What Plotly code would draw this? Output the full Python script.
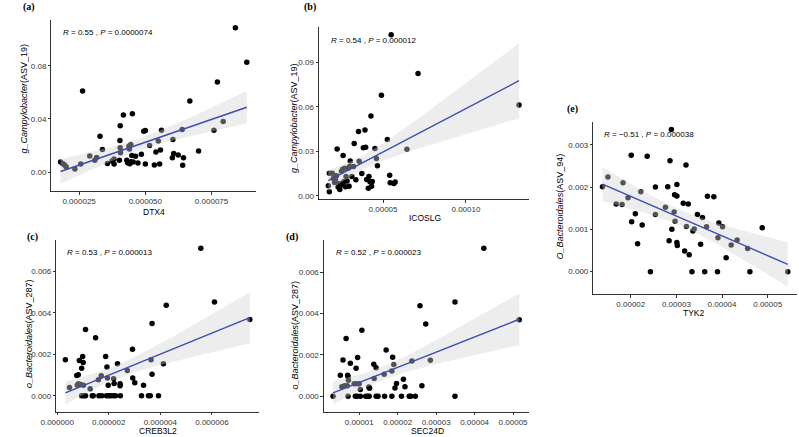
import numpy as np
import plotly.graph_objects as go

W, H = 799, 437

# ---------------- data ----------------
a_x = [0.0000180, 0.0000189, 0.0000195, 0.0000201, 0.0000234, 0.0000256, 0.0000263, 0.0000290, 0.0000309, 0.0000316,
       0.0000329, 0.0000338, 0.0000357, 0.0000374, 0.0000382, 0.0000382, 0.0000402, 0.0000404, 0.0000405, 0.0000405,
       0.0000406, 0.0000417, 0.0000430, 0.0000433, 0.0000438, 0.0000440, 0.0000445, 0.0000441, 0.0000446, 0.0000449,
       0.0000451, 0.0000454, 0.0000463, 0.0000472, 0.0000485, 0.0000494, 0.0000500, 0.0000500, 0.0000516, 0.0000534,
       0.0000540, 0.0000549, 0.0000554, 0.0000557, 0.0000561, 0.0000602, 0.0000604, 0.0000607, 0.0000624, 0.0000639,
       0.0000641, 0.0000644, 0.0000668, 0.0000701, 0.0000759, 0.0000772, 0.0000794, 0.0000840, 0.0000883]
a_y = [0.0075, 0.0063, 0.0053, 0.0040, 0.0023, 0.0060, 0.0610, 0.0120, 0.0088, 0.0110,
       0.0270, 0.0170, 0.0065, 0.0083, 0.0098, 0.0060, 0.0088, 0.0238, 0.0348, 0.0183,
       0.0145, 0.0430, 0.0088, 0.0070, 0.0195, 0.0173, 0.0208, 0.0063, 0.0078, 0.0125,
       0.0440, 0.0075, 0.0118, 0.0068, 0.0133, 0.0308, 0.0313, 0.0060, 0.0200, 0.0053,
       0.0150, 0.0233, 0.0060, 0.0165, 0.0315, 0.0108, 0.0245, 0.0140, 0.0128, 0.0320,
       0.0050, 0.0108, 0.0535, 0.0158, 0.0315, 0.0678, 0.0380, 0.1088, 0.0828]

b_x = [0.0000170, 0.0000176, 0.0000176, 0.0000194, 0.0000200, 0.0000208, 0.0000213, 0.0000219, 0.0000223, 0.0000229,
       0.0000235, 0.0000239, 0.0000245, 0.0000249, 0.0000255, 0.0000257, 0.0000259, 0.0000265, 0.0000269, 0.0000273,
       0.0000277, 0.0000283, 0.0000289, 0.0000295, 0.0000298, 0.0000302, 0.0000312, 0.0000322, 0.0000326, 0.0000336,
       0.0000352, 0.0000356, 0.0000372, 0.0000381, 0.0000391, 0.0000395, 0.0000401, 0.0000411, 0.0000415, 0.0000421,
       0.0000427, 0.0000431, 0.0000435, 0.0000451, 0.0000460, 0.0000466, 0.0000490, 0.0000526, 0.0000540, 0.0000543,
       0.0000549, 0.0000565, 0.0000573, 0.0000644, 0.0000711, 0.0001320]
b_y = [0.0067, 0.0027, 0.0152, 0.0152, 0.0116, 0.0089, 0.0107, 0.0134, 0.0315, 0.0058,
       0.0080, 0.0042, 0.0071, 0.0165, 0.0085, 0.0179, 0.0272, 0.0096, 0.0185, 0.0060,
       0.0130, 0.0100, 0.0185, 0.0063, 0.0197, 0.0234, 0.0130, 0.0197, 0.0353, 0.0107,
       0.0433, 0.0232, 0.0150, 0.0324, 0.0444, 0.0328, 0.0109, 0.0051, 0.0130, 0.0094,
       0.0538, 0.0063, 0.0096, 0.0319, 0.0252, 0.0203, 0.0679, 0.0380, 0.0138, 0.0087,
       0.1087, 0.0083, 0.0092, 0.0313, 0.0826, 0.0612]

c_x = [3.2e-7, 4.8e-7, 7.6e-7, 8.2e-7, 7.8e-7, 8.2e-7, 8.6e-7, 9.1e-7, 9.5e-7, 9.9e-7,
       1.01e-6, 9.5e-7, 1.04e-6, 1.10e-6, 1.02e-6, 1.10e-6, 1.28e-6, 1.36e-6, 1.40e-6, 1.49e-6,
       1.60e-6, 1.71e-6, 1.62e-6, 1.73e-6, 1.88e-6, 1.93e-6, 1.95e-6, 1.98e-6, 1.91e-6, 2.00e-6,
       2.08e-6, 2.17e-6, 2.26e-6, 2.45e-6, 2.19e-6, 2.21e-6, 2.34e-6, 2.44e-6, 2.44e-6, 2.72e-6,
       2.92e-6, 2.93e-6, 3.01e-6, 3.27e-6, 3.35e-6, 3.54e-6, 3.61e-6, 3.64e-6, 3.68e-6, 3.68e-6,
       3.93e-6, 4.12e-6, 4.23e-6, 5.57e-6, 6.10e-6, 7.47e-6]
c_y = [0.00174, 0.00040, 0.00098, 0.00101, 0.00050, 0.00058, 0.00170, 0.00054, 0.00133, 0.00189,
       0.00160, 0.0, 0.0, 0.0, 0.00050, 0.00320, 0.00034, 0.0, 0.0, 0.00280,
       0.00077, 0.00096, 0.0, 0.0, 0.00189, 0.00138, 0.00086, 0.00050, 0.0, 0.0,
       0.0, 0.0, 0.0, 0.0, 0.00082, 0.00059, 0.00154, 0.00058, 0.00048, 0.00122,
       0.00224, 0.00085, 0.00062, 0.0, 0.00050, 0.0, 0.0, 0.00174, 0.00349, 0.00104,
       0.0, 0.00154, 0.00437, 0.00712, 0.00453, 0.00368]

d_x = [0.0000032, 0.0000051, 0.0000055, 0.0000058, 0.0000062, 0.0000066, 0.0000070, 0.0000071, 0.0000072, 0.0000071,
       0.0000069, 0.0000077, 0.0000087, 0.0000090, 0.0000092, 0.0000094, 0.0000096, 0.0000095, 0.0000100, 0.0000103,
       0.0000103, 0.0000107, 0.0000117, 0.0000122, 0.0000126, 0.0000125, 0.0000127, 0.0000138, 0.0000139, 0.0000144,
       0.0000144, 0.0000149, 0.0000165, 0.0000166, 0.0000170, 0.0000185, 0.0000185, 0.0000187, 0.0000190, 0.0000193,
       0.0000197, 0.0000210, 0.0000215, 0.0000219, 0.0000230, 0.0000234, 0.0000237, 0.0000246, 0.0000258, 0.0000263,
       0.0000273, 0.0000285, 0.0000349, 0.0000349, 0.0000424, 0.0000516]
d_y = [0.0, 0.00101, 0.00046, 0.00176, 0.00050, 0.00280, 0.00101, 0.00096, 0.00077, 0.0,
       0.00050, 0.00160, 0.00060, 0.0, 0.00136, 0.00060, 0.00187, 0.0, 0.00060, 0.00032,
       0.0, 0.00320, 0.0, 0.0, 0.0, 0.00045, 0.00038, 0.00155, 0.00086, 0.00138,
       0.0, 0.0, 0.00106, 0.0, 0.00224, 0.0, 0.00122, 0.00189, 0.00154, 0.00040,
       0.00062, 0.0, 0.00082, 0.00046, 0.0, 0.0, 0.00170, 0.0, 0.00438, 0.00050,
       0.00350, 0.00174, 0.0, 0.00456, 0.00717, 0.00370]

e_x = [0.0000138, 0.0000150, 0.0000168, 0.0000181, 0.0000183, 0.0000194, 0.0000201, 0.0000202, 0.0000210, 0.0000215,
       0.0000222, 0.0000225, 0.0000236, 0.0000243, 0.0000254, 0.0000254, 0.0000276, 0.0000281, 0.0000284, 0.0000286,
       0.0000289, 0.0000290, 0.0000295, 0.0000296, 0.0000297, 0.0000301, 0.0000301, 0.0000301, 0.0000302, 0.0000315,
       0.0000318, 0.0000321, 0.0000322, 0.0000326, 0.0000328, 0.0000334, 0.0000336, 0.0000339, 0.0000346, 0.0000353,
       0.0000357, 0.0000362, 0.0000366, 0.0000368, 0.0000382, 0.0000390, 0.0000391, 0.0000393, 0.0000401, 0.0000409,
       0.0000420, 0.0000433, 0.0000456, 0.0000461, 0.0000488, 0.0000544]
e_y = [0.00201, 0.00224, 0.00160, 0.00159, 0.00210, 0.00175, 0.00275, 0.00118, 0.00137, 0.00066,
       0.00189, 0.00110, 0.00273, 0.0, 0.00200, 0.00135, 0.00152, 0.00201, 0.00073, 0.00262,
       0.00336, 0.00100, 0.00141, 0.00182, 0.00119, 0.00179, 0.00206, 0.00069, 0.00062, 0.00162,
       0.00049, 0.00252, 0.00107, 0.00160, 0.00040, 0.0, 0.00096, 0.00101, 0.00135, 0.00065,
       0.00128, 0.0, 0.00106, 0.00178, 0.00177, 0.0, 0.00080, 0.00115, 0.00106, 0.00033,
       0.00063, 0.00075, 0.00055, 0.0, 0.00104, 0.0]

# tick labels
a_xticks = [0.000025, 0.000050, 0.000075]
a_xtext = ["0.000025", "0.000050", "0.000075"]
a_yticks = [0.00, 0.04, 0.08]
a_ytext = ["0.00", "0.04", "0.08"]
b_xticks = [0.00005, 0.00010]
b_xtext = ["0.00005", "0.00010"]
b_yticks = [0.00, 0.03, 0.06, 0.09]
b_ytext = ["0.00", "0.03", "0.06", "0.09"]
c_xticks = [0.0, 0.000002, 0.000004, 0.000006]
c_xtext = ["0.000000", "0.000002", "0.000004", "0.000006"]
c_yticks = [0.000, 0.002, 0.004, 0.006]
c_ytext = ["0.000", "0.002", "0.004", "0.006"]
d_xticks = [0.00001, 0.00002, 0.00003, 0.00004, 0.00005]
d_xtext = ["0.00001", "0.00002", "0.00003", "0.00004", "0.00005"]
d_yticks = [0.000, 0.002, 0.004, 0.006]
d_ytext = ["0.000", "0.002", "0.004", "0.006"]
e_xticks = [0.00002, 0.00003, 0.00004, 0.00005]
e_xtext = ["0.00002", "0.00003", "0.00004", "0.00005"]
e_yticks = [0.000, 0.001, 0.002, 0.003]
e_ytext = ["0.000", "0.001", "0.002", "0.003"]

panel_tags = ["(a)", "(b)", "(c)", "(d)", "(e)"]
x_titles = ["DTX4", "ICOSLG", "CREB3L2", "SEC24D", "TYK2"]
y_titles = ["<i>g_Campylobacter</i>(ASV_19)", "<i>g_Campylobacter</i>(ASV_19)",
            "<i>o_Bacteroidales</i>(ASV_287)", "<i>o_Bacteroidales</i>(ASV_287)",
            "<i>O_Bacteroidales</i>(ASV_94)"]
stats = ["<i>R</i> = 0.55 , <i>P</i> = 0.0000074",
         "<i>R</i> = 0.54 , <i>P</i> = 0.000012",
         "<i>R</i> = 0.53 , <i>P</i> = 0.000013",
         "<i>R</i> = 0.52 , <i>P</i> = 0.000023",
         "<i>R</i> = \u22120.51 , <i>P</i> = 0.000038"]

# ---------------- layout geometry (pixels) ----------------
# (left, right, top, bottom) of each panel
boxes = [(36, 245, 20, 192), (309, 523, 27, 200), (41, 248, 241, 413),
         (314, 523, 241, 413), (589, 797, 122, 295)]
tag_pos = [(13, 7), (300, 7), (17, 238), (282, 238), (568, 109)]
stat_pos = [(46, 33), (319, 41), (50, 253), (324, 253), (598, 135)]
xt_pos = [(141, 212), (417, 218.5), (145, 432), (420, 431.5), (692, 314)]
yt_pos = [(8, 99), (283, 118), (13, 334), (285, 336), (555, 207)]

panels = [(a_x, a_y, a_xticks, a_xtext, a_yticks, a_ytext),
          (b_x, b_y, b_xticks, b_xtext, b_yticks, b_ytext),
          (c_x, c_y, c_xticks, c_xtext, c_yticks, c_ytext),
          (d_x, d_y, d_xticks, d_xtext, d_yticks, d_ytext),
          (e_x, e_y, e_xticks, e_xtext, e_yticks, e_ytext)]


def t975(df):
    z = 1.959963984540054
    g1 = (z**3 + z) / 4
    g2 = (5 * z**5 + 16 * z**3 + 3 * z) / 96
    g3 = (3 * z**7 + 19 * z**5 + 17 * z**3 - 15 * z) / 384
    return z + g1 / df + g2 / df**2 + g3 / df**3


def fit(x, y):
    x = np.asarray(x, float)
    y = np.asarray(y, float)
    n = len(x)
    xm, ym = x.mean(), y.mean()
    sxx = ((x - xm) ** 2).sum()
    b = ((x - xm) * (y - ym)).sum() / sxx
    a = ym - b * xm
    resid = y - (a + b * x)
    s = np.sqrt((resid ** 2).sum() / (n - 2))
    xs = np.linspace(x.min(), x.max(), 80)
    yh = a + b * xs
    se = s * np.sqrt(1.0 / n + (xs - xm) ** 2 / sxx)
    t = t975(n - 2)
    return xs, yh, yh - t * se, yh + t * se


fig = go.Figure()
ann = []
FONT = "Liberation Sans, Arial, sans-serif"

for i, (px, py, xtv, xtt, ytv, ytt) in enumerate(panels):
    k = "" if i == 0 else str(i + 1)
    xa, ya = "x" + k, "y" + k
    xs, yh, lo, hi = fit(px, py)
    # points
    fig.add_trace(go.Scatter(x=px, y=py, mode="markers", xaxis=xa, yaxis=ya,
                             marker=dict(color="black", size=5.5, line=dict(width=0)),
                             showlegend=False, hoverinfo="skip"))
    # confidence band (over the points, like ggplot)
    fig.add_trace(go.Scatter(x=np.concatenate([xs, xs[::-1]]), y=np.concatenate([hi, lo[::-1]]),
                             mode="lines", fill="toself", fillcolor="rgba(211,211,211,0.4)",
                             line=dict(width=0), xaxis=xa, yaxis=ya, showlegend=False, hoverinfo="skip"))
    fig.add_trace(go.Scatter(x=xs, y=yh, mode="lines", line=dict(color="#3A4DB0", width=1.4),
                             xaxis=xa, yaxis=ya, showlegend=False, hoverinfo="skip"))
    # ranges: ggplot-like 5% expansion
    xmin, xmax = min(px), max(px)
    ymin, ymax = min(min(py), lo.min()), max(max(py), hi.max())
    dx, dy = (xmax - xmin) * 0.05, (ymax - ymin) * 0.05
    L, R, T, B = boxes[i]
    axcommon = dict(showline=True, linecolor="black", linewidth=0.8, ticks="outside", ticklen=2.5,
                    tickcolor="black", tickwidth=0.8, showgrid=False, zeroline=False,
                    tickfont=dict(family=FONT, size=8, color="#333333"))
    fig.update_layout(**{
        "xaxis" + k: dict(domain=[L / W, R / W], range=[xmin - dx, xmax + dx], anchor=ya,
                          tickmode="array", tickvals=xtv, ticktext=xtt, **axcommon),
        "yaxis" + k: dict(domain=[1 - B / H, 1 - T / H], range=[ymin - dy, ymax + dy], anchor=xa,
                          tickmode="array", tickvals=ytv, ticktext=ytt, **axcommon),
    })
    tx, ty = tag_pos[i]
    ann.append(dict(x=tx / W, y=1 - ty / H, xref="paper", yref="paper", text="<b>" + panel_tags[i] + "</b>",
                    showarrow=False, xanchor="center", yanchor="middle",
                    font=dict(family="Liberation Serif, Times New Roman, serif", size=10, color="black")))
    sx, sy = stat_pos[i]
    ann.append(dict(x=sx / W, y=1 - sy / H, xref="paper", yref="paper", text=stats[i],
                    showarrow=False, xanchor="left", yanchor="middle",
                    font=dict(family=FONT, size=8, color="black")))
    xx, xy = xt_pos[i]
    ann.append(dict(x=xx / W, y=1 - xy / H, xref="paper", yref="paper", text=x_titles[i],
                    showarrow=False, xanchor="center", yanchor="middle",
                    font=dict(family=FONT, size=8.5, color="black")))
    yx, yy = yt_pos[i]
    ann.append(dict(x=yx / W, y=1 - yy / H, xref="paper", yref="paper", text=y_titles[i],
                    showarrow=False, xanchor="center", yanchor="middle", textangle=-90,
                    font=dict(family=FONT, size=9, color="black")))

fig.update_layout(width=W, height=H, margin=dict(l=0, r=0, t=0, b=0),
                  paper_bgcolor="white", plot_bgcolor="white", annotations=ann)
fig.write_html("out.html", config={"displayModeBar": False, "staticPlot": True},
               post_script="document.body.style.margin='0';document.body.style.padding='0';"
                           "document.documentElement.style.overflow='hidden';")
